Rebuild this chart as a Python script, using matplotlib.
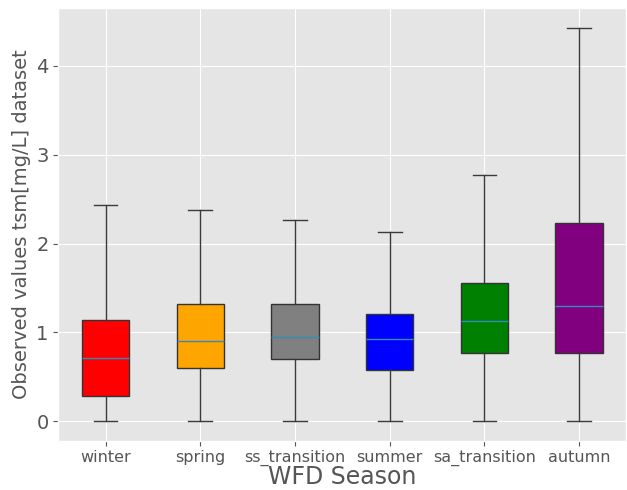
import matplotlib
matplotlib.use("Agg")
import matplotlib.pyplot as plt

plt.style.use("ggplot")

seasons = ["winter", "spring", "ss_transition", "summer", "sa_transition", "autumn"]
box_colors = ["red", "orange", "gray", "blue", "green", "purple"]

# quantiles (mg/L)
whislo = [0.0, 0.0, 0.0, 0.0, 0.0, 0.0]
q1 = [0.28, 0.60, 0.70, 0.58, 0.765, 0.765]
med = [0.715, 0.905, 0.945, 0.93, 1.13, 1.30]
q3 = [1.135, 1.315, 1.32, 1.21, 1.56, 2.23]
whishi = [2.43, 2.38, 2.27, 2.13, 2.77, 4.43]

stats = []
for i, name in enumerate(seasons):
    stats.append({
        "label": name,
        "whislo": whislo[i],
        "q1": q1[i],
        "med": med[i],
        "q3": q3[i],
        "whishi": whishi[i],
        "fliers": [],
    })

fig, ax = plt.subplots(figsize=(6.27, 4.9), dpi=100)

line_col = "#3a3a3a"
bp = ax.bxp(stats, positions=range(1, len(seasons) + 1), widths=0.5,
            patch_artist=True, showfliers=False,
            whiskerprops=dict(color=line_col),
            capprops=dict(color=line_col))
for patch, c in zip(bp["boxes"], box_colors):
    patch.set_facecolor(c)
    patch.set_edgecolor("#333333")

ax.set_xlim(0.5, len(seasons) + 0.5)
ax.set_xlabel("WFD Season", fontsize=17, color="#555555", labelpad=-1)
ax.set_ylabel("Observed values tsm[mg/L] dataset", fontsize=14, color="#555555")
ax.tick_params(axis="x", labelsize=11.5, pad=3)
ax.tick_params(axis="y", labelsize=14)

fig.subplots_adjust(left=0.093, right=0.999, top=0.984, bottom=0.1)
plt.savefig("out.png", dpi=100)
